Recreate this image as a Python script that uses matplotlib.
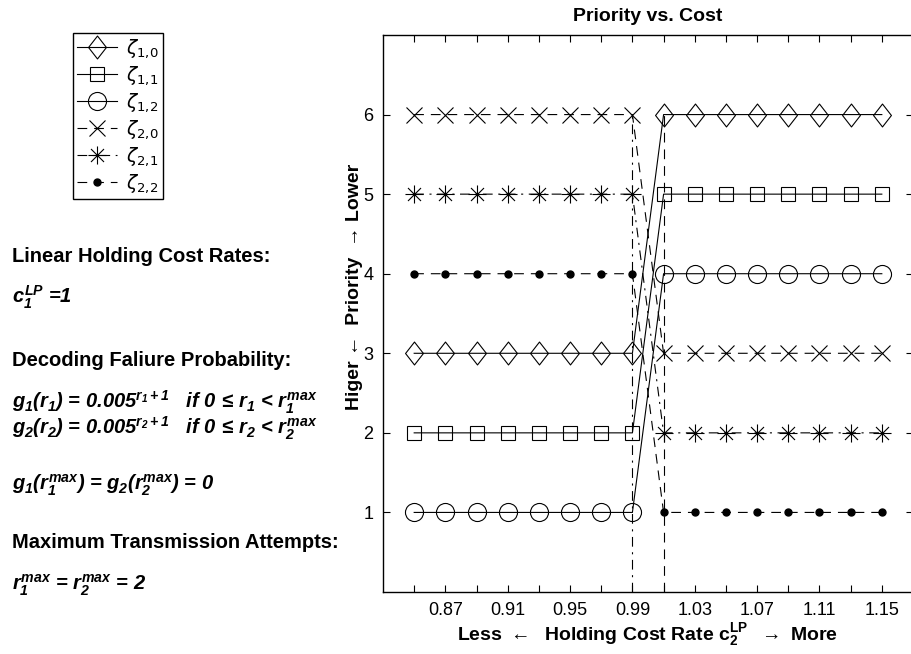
import matplotlib
matplotlib.use("Agg")
import matplotlib.pyplot as plt
from matplotlib.path import Path
from matplotlib.font_manager import FontProperties

# ---------------- data ----------------
cost_rates = [0.85, 0.87, 0.89, 0.91, 0.93, 0.95, 0.97, 0.99,
              1.01, 1.03, 1.05, 1.07, 1.09, 1.11, 1.13, 1.15]
zeta_10 = [3, 3, 3, 3, 3, 3, 3, 3, 6, 6, 6, 6, 6, 6, 6, 6]
zeta_11 = [2, 2, 2, 2, 2, 2, 2, 2, 5, 5, 5, 5, 5, 5, 5, 5]
zeta_12 = [1, 1, 1, 1, 1, 1, 1, 1, 4, 4, 4, 4, 4, 4, 4, 4]
zeta_20 = [6, 6, 6, 6, 6, 6, 6, 6, 3, 3, 3, 3, 3, 3, 3, 3]
zeta_21 = [5, 5, 5, 5, 5, 5, 5, 5, 2, 2, 2, 2, 2, 2, 2, 2]
zeta_22 = [4, 4, 4, 4, 4, 4, 4, 4, 1, 1, 1, 1, 1, 1, 1, 1]
series_labels = [r"$\zeta_{1,\!0}$", r"$\zeta_{1,\!1}$", r"$\zeta_{1,\!2}$",
                 r"$\zeta_{2,\!0}$", r"$\zeta_{2,\!1}$", r"$\zeta_{2,\!2}$"]
switch_x = [0.99, 1.01]
switch_y = [0, 6]
xtick_values = [0.85, 0.87, 0.89, 0.91, 0.93, 0.95, 0.97, 0.99,
                1.01, 1.03, 1.05, 1.07, 1.09, 1.11, 1.13, 1.15]
xtick_labels = ["", "0.87", "", "0.91", "", "0.95", "", "0.99",
                "", "1.03", "", "1.07", "", "1.11", "", "1.15"]
ytick_values = [1, 2, 3, 4, 5, 6]

# ---------------- style ----------------
plt.rcParams['font.family'] = ['Liberation Sans', 'DejaVu Sans']
plt.rcParams['mathtext.fontset'] = 'custom'
plt.rcParams['mathtext.rm'] = 'Liberation Sans:italic:bold'
plt.rcParams['mathtext.it'] = 'Liberation Sans:italic:bold'
plt.rcParams['mathtext.bf'] = 'Liberation Sans:bold'
plt.rcParams['mathtext.sf'] = 'Liberation Sans'
plt.rcParams['lines.scale_dashes'] = False

diamond = Path([(0, 1), (0.78, 0), (0, -1), (-0.78, 0), (0, 1)],
               [Path.MOVETO, Path.LINETO, Path.LINETO, Path.LINETO, Path.CLOSEPOLY])
asterisk = Path([(-1, 0), (1, 0), (0, -1), (0, 1),
                 (-0.72, -0.72), (0.72, 0.72), (-0.72, 0.72), (0.72, -0.72)],
                [Path.MOVETO, Path.LINETO] * 4)

fig = plt.figure(figsize=(9.11, 6.54), dpi=100)
ax = fig.add_axes([383 / 911, 62 / 654, 530 / 911, 557 / 654])

lw = 0.8
dash = (7, 5)
dashdot = (7, 4, 1.5, 4)

h = []
h += ax.plot(cost_rates, zeta_10, color='k', lw=lw, marker=diamond, ms=16.5,
             mfc='none', mec='k', mew=lw)
h += ax.plot(cost_rates, zeta_11, color='k', lw=lw, marker='s', ms=10.6,
             mfc='none', mec='k', mew=lw)
h += ax.plot(cost_rates, zeta_12, color='k', lw=lw, marker='o', ms=13,
             mfc='none', mec='k', mew=lw)
h += ax.plot(cost_rates, zeta_20, color='k', lw=lw, marker='x', ms=12,
             mec='k', mew=lw, dashes=dash)
h += ax.plot(cost_rates, zeta_21, color='k', lw=lw, marker=asterisk, ms=13,
             mec='k', mew=lw, dashes=dashdot)
h += ax.plot(cost_rates, zeta_22, color='k', lw=lw, marker='o', ms=5,
             mfc='k', mec='k', dashes=dash)

ax.plot([switch_x[0], switch_x[0]], switch_y, color='k', lw=lw, dashes=dashdot)
ax.plot([switch_x[1], switch_x[1]], switch_y, color='k', lw=lw, dashes=dash)

ax.set_xlim(0.83, 1.17)
ax.set_ylim(0, 7)
ax.set_xticks(xtick_values)
ax.set_xticklabels(xtick_labels)
ax.set_yticks(ytick_values)
ax.tick_params(direction='in', top=True, right=True, length=5, width=0.8,
               labelsize=13, pad=7)
for s in ax.spines.values():
    s.set_linewidth(1.0)

ax.set_title("Priority vs. Cost", fontsize=14, fontweight='bold', pad=10)
ax.set_xlabel(r"Less $\leftarrow$  Holding Cost Rate $\mathbf{c_2^{LP}}$  $\rightarrow$ More",
              fontsize=14, fontweight='bold', labelpad=2)
ax.set_ylabel("Higer \u2190  Priority  \u2192 Lower", fontsize=14,
              fontweight='bold')
ax.yaxis.set_label_coords(-0.037, 0.547)

leg_prop = FontProperties(family='DejaVu Sans', size=13.5, math_fontfamily='dejavusans')
leg = fig.legend(h, series_labels, loc='upper left', bbox_to_anchor=(73 / 911, 1 - 33 / 654),
                 borderaxespad=0, prop=leg_prop, fancybox=False, framealpha=1,
                 edgecolor='k', handlelength=2.15, handletextpad=0.5,
                 labelspacing=0.22, borderpad=0.2)
leg.get_frame().set_linewidth(1.0)

fs = 14.5
txt = dict(fontsize=fs, fontweight='bold', ha='left', va='center')
mtxt = dict(fontsize=fs, fontweight='bold', style='italic', ha='left', va='center')
fig.text(12 / 911, 1 - 257 / 654, "Linear Holding Cost Rates:", **txt)
fig.text(12 / 911, 1 - 297 / 654, r"$c_1^{LP}$ =1", **mtxt)
fig.text(12 / 911, 1 - 360 / 654, "Decoding Faliure Probability:", **txt)
fig.text(12 / 911, 1 - 402 / 654,
         r"$g_1(r_1)$ = 0.00$5^{r_1+1}$   if 0$\,\leq\,$$r_1$ < $r_1^{max}$", **mtxt)
fig.text(12 / 911, 1 - 428 / 654,
         r"$g_2(r_2)$ = 0.00$5^{r_2+1}$   if 0$\,\leq\,$$r_2$ < $r_2^{max}$", **mtxt)
fig.text(12 / 911, 1 - 485 / 654, r"$g_1(r_1^{max})$ = $g_2(r_2^{max})$ = 0", **mtxt)
fig.text(12 / 911, 1 - 543 / 654, "Maximum Transmission Attempts:", **txt)
fig.text(12 / 911, 1 - 585 / 654, r"$r_1^{max}$ = $r_2^{max}$ = 2", **mtxt)

fig.savefig("out.png", dpi=100)
